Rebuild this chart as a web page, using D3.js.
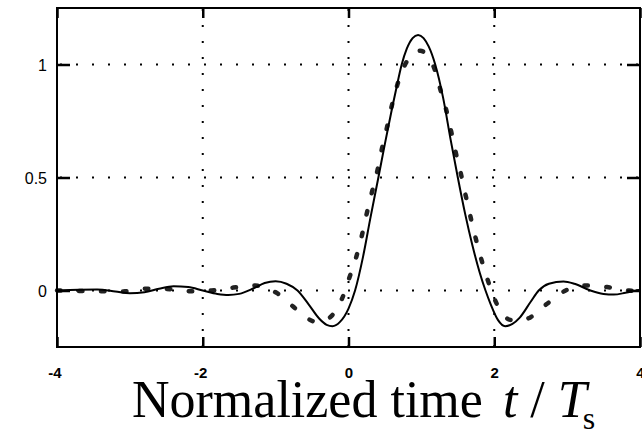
<!DOCTYPE html>
<html>
<head>
<meta charset="utf-8">
<script src="https://cdn.jsdelivr.net/npm/d3@7"></script>
<style>
  body { margin: 0; background: #fff; }
  svg { display: block; }
  .tick text { font-family: "Liberation Sans", Arial, sans-serif; fill: #000; }
</style>
</head>
<body>
<svg id="chart" width="642" height="429"></svg>
<script>
// tick values
var xTicks = [-4, -2, 0, 2, 4];
var yTicks = [0, 0.5, 1];

// solid curve
var tSolid = [-4.0, -3.7, -3.45, -3.2, -3.0, -2.8, -2.6, -2.4, -2.2, -2.0, -1.8, -1.65, -1.5, -1.3, -1.15, -1.0, -0.85, -0.7, -0.55, -0.4, -0.3, -0.22, -0.12, 0.0, 0.09, 0.2, 0.3, 0.41, 0.5, 0.6, 0.65, 0.73, 0.8, 0.88, 0.955, 1.03, 1.1, 1.19, 1.3, 1.4, 1.5, 1.6, 1.7, 1.8, 1.88, 1.95, 2.05, 2.15, 2.25, 2.35, 2.5, 2.61, 2.75, 2.95, 3.1, 3.32, 3.5, 3.64, 3.8, 4.0];
var vSolid = [0.000, 0.003, 0.004, -0.004, -0.012, -0.008, 0.008, 0.019, 0.015, 0.000, -0.015, -0.020, -0.015, 0.010, 0.033, 0.041, 0.030, 0.000, -0.060, -0.125, -0.152, -0.158, -0.140, -0.080, 0.000, 0.150, 0.320, 0.500, 0.650, 0.810, 0.885, 1.000, 1.070, 1.117, 1.131, 1.117, 1.080, 1.000, 0.850, 0.670, 0.500, 0.340, 0.200, 0.080, 0.000, -0.060, -0.130, -0.158, -0.148, -0.120, -0.050, 0.000, 0.030, 0.040, 0.030, 0.000, -0.015, -0.018, -0.010, 0.004];

// dashed curve
var tDash = [-4.0, -3.7, -3.4, -3.1, -2.77, -2.45, -2.17, -1.88, -1.58, -1.28, -1.1, -0.98, -0.76, -0.6, -0.45, -0.35, -0.25, -0.09, 0.014, 0.106, 0.184, 0.25, 0.32, 0.4, 0.459, 0.527, 0.596, 0.673, 0.78, 0.88, 0.985, 1.08, 1.177, 1.26, 1.342, 1.41, 1.475, 1.544, 1.61, 1.68, 1.75, 1.83, 1.92, 2.03, 2.22, 2.35, 2.5, 2.72, 2.98, 3.25, 3.55, 3.85, 4.0];
var vDash = [0.000, -0.002, -0.003, -0.004, 0.008, 0.006, -0.003, 0.000, 0.013, 0.022, 0.008, -0.012, -0.071, -0.115, -0.138, -0.135, -0.118, -0.037, 0.059, 0.148, 0.244, 0.340, 0.433, 0.535, 0.628, 0.720, 0.820, 0.913, 1.002, 1.045, 1.061, 1.040, 0.983, 0.890, 0.798, 0.702, 0.606, 0.514, 0.417, 0.318, 0.225, 0.130, 0.037, -0.056, -0.130, -0.135, -0.118, -0.060, 0.000, 0.022, 0.015, 0.000, -0.002];

var svg = d3.select("#chart"),
    margin = {top: 8, right: 2, bottom: 82, left: 57},
    width  = +svg.attr("width")  - margin.left - margin.right,
    height = +svg.attr("height") - margin.top  - margin.bottom;

var x = d3.scaleLinear().domain([-4, 4]).range([0, width]);
var y = d3.scaleLinear().domain([-0.25, 1.25]).range([height, 0]);

var g = svg.append("g")
  .attr("transform", "translate(" + margin.left + "," + margin.top + ")");

// dotted grid
g.selectAll(".vgrid")
  .data(xTicks.filter(function(d) { return d > -4 && d < 4; }))
  .enter().append("line")
    .attr("x1", function(d) { return x(d); })
    .attr("x2", function(d) { return x(d); })
    .attr("y1", 0).attr("y2", height)
    .attr("stroke", "#000").attr("stroke-width", 2)
    .attr("stroke-dasharray", "2,14").attr("stroke-dashoffset", 15);

g.selectAll(".hgrid")
  .data(yTicks)
  .enter().append("line")
    .attr("x1", 0).attr("x2", width)
    .attr("y1", function(d) { return y(d); })
    .attr("y2", function(d) { return y(d); })
    .attr("stroke", "#000").attr("stroke-width", 2)
    .attr("stroke-dasharray", "2,14").attr("stroke-dashoffset", 13);

// curves
var solid = tSolid.map(function(t, i) { return {t: t, v: vSolid[i]}; });
var dashed = tDash.map(function(t, i) { return {t: t, v: vDash[i]}; });

var line = d3.line()
  .curve(d3.curveMonotoneX)
  .x(function(d) { return x(d.t); })
  .y(function(d) { return y(d.v); });

g.append("path")
  .datum(dashed)
  .attr("fill", "none")
  .attr("stroke", "#222")
  .attr("stroke-width", 4.5)
  .attr("stroke-linecap", "round")
  .attr("stroke-dasharray", "3.5,18.5")
  .attr("d", line);

g.append("path")
  .datum(solid)
  .attr("fill", "none")
  .attr("stroke", "#000")
  .attr("stroke-width", 2)
  .attr("d", line);

// inner ticks on all four sides
var fmt = function(d) { return String(d); };

var xAxis = g.append("g")
  .attr("transform", "translate(0," + height + ")")
  .call(d3.axisBottom(x).tickValues(xTicks).tickSizeInner(-10).tickSizeOuter(0).tickFormat(fmt));
xAxis.selectAll("line").attr("stroke-width", 2.5);
xAxis.selectAll("text")
  .style("font-size", "15px")
  .style("font-weight", "bold")
  .attr("text-anchor", "end")
  .attr("x", 4)
  .attr("y", 31)
  .attr("dy", 0);

g.append("g")
  .call(d3.axisTop(x).tickValues(xTicks).tickSizeInner(-10).tickSizeOuter(0).tickFormat(""))
  .selectAll("line").attr("stroke-width", 2.5);

var yAxis = g.append("g")
  .call(d3.axisLeft(y).tickValues(yTicks).tickSizeInner(-13).tickSizeOuter(0).tickFormat(fmt));
yAxis.selectAll("line").attr("stroke-width", 2.5);
yAxis.selectAll("text")
  .style("font-size", "16px")
  .attr("x", -10)
  .attr("dy", "0.35em");

g.append("g")
  .attr("transform", "translate(" + width + ",0)")
  .call(d3.axisRight(y).tickValues(yTicks).tickSizeInner(-13).tickSizeOuter(0).tickFormat(""))
  .selectAll("line").attr("stroke-width", 2.5);

g.selectAll(".domain").remove();

// frame
g.append("rect")
  .attr("width", width).attr("height", height)
  .attr("fill", "none").attr("stroke", "#000").attr("stroke-width", 2);

// axis title
var title = svg.append("text")
  .attr("x", 132).attr("y", 417)
  .attr("font-family", "'Liberation Serif', 'Times New Roman', serif")
  .attr("font-size", 52)
  .attr("fill", "#000");
title.append("tspan").text("Normalized time");
title.append("tspan").attr("dx", 20).attr("font-style", "italic").text("t");
title.append("tspan").text(" / ");
title.append("tspan").attr("font-style", "italic").text("T");
title.append("tspan").attr("font-size", 32).attr("dy", 12).attr("dx", -4).text("s");
</script>
</body>
</html>
